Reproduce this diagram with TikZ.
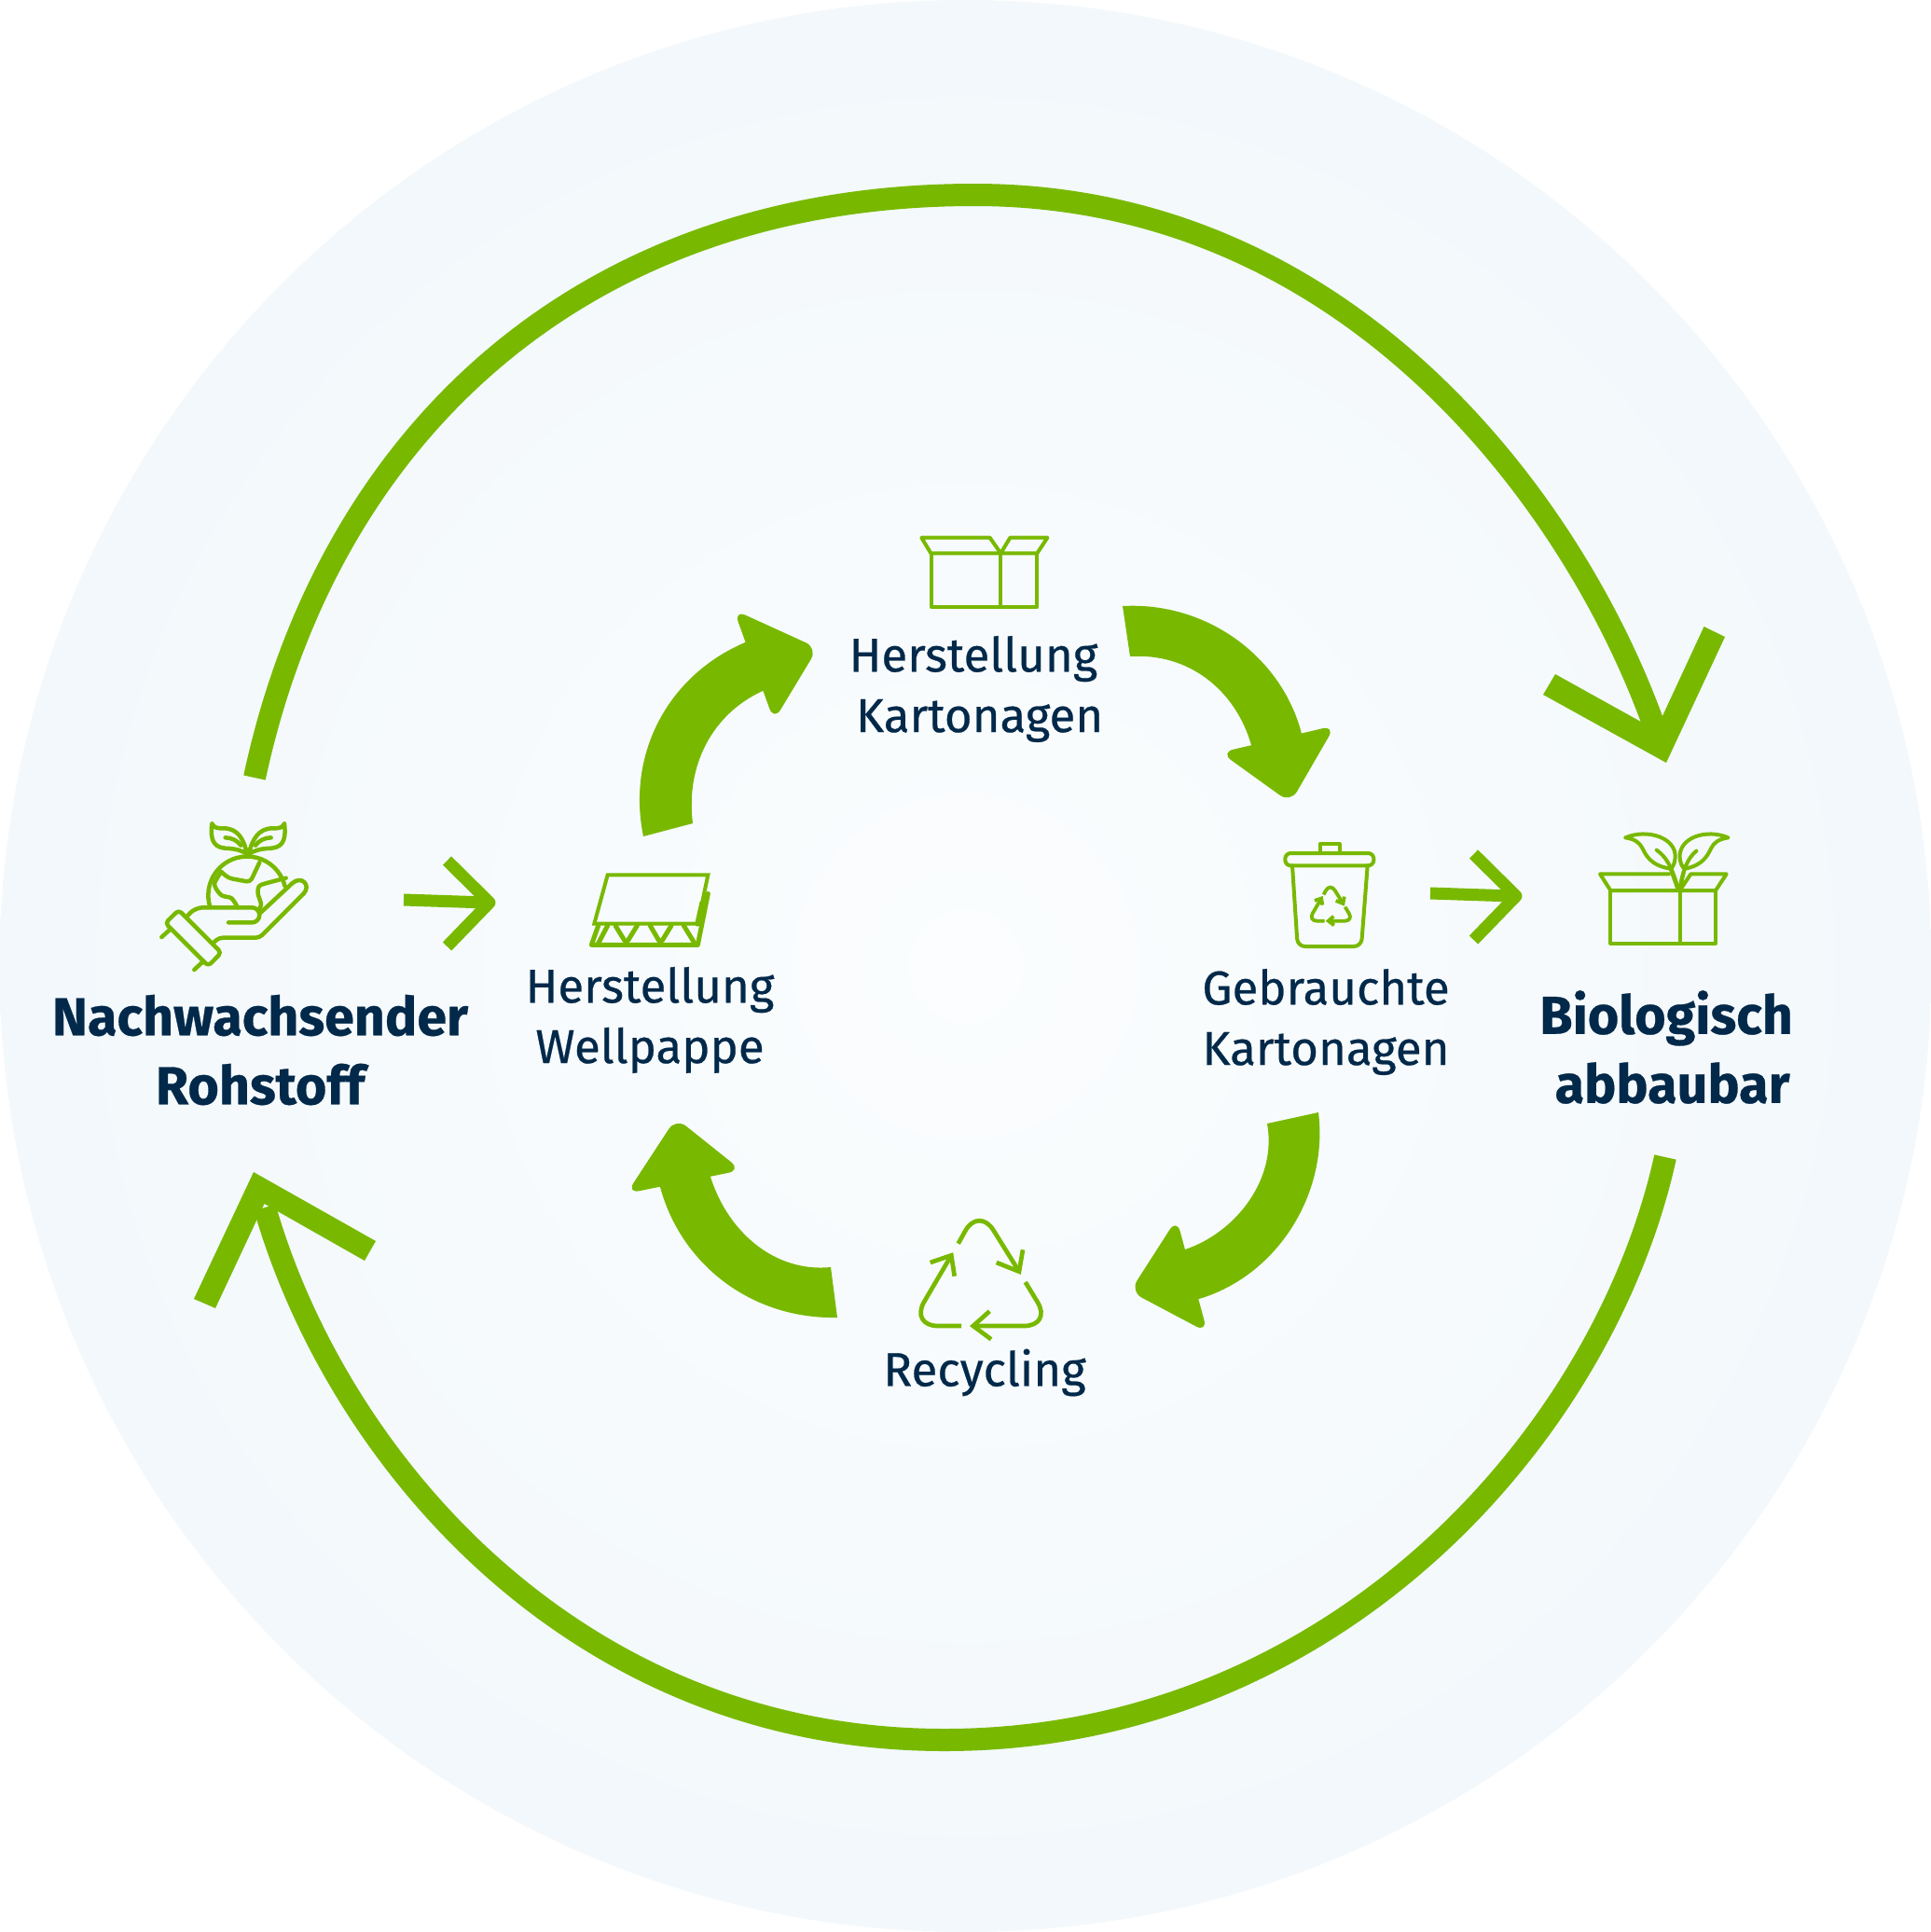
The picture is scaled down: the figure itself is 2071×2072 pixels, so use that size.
\documentclass[tikz,border=0pt]{standalone}
\usepackage{fontspec}
\setmainfont{Fira Sans}
\newfontfamily\labfont{Fira Sans}[FakeBold=0.5]
\newfontfamily\heavyfont{Fira Sans Bold}[FakeBold=0.5]
\usetikzlibrary{calc}
\definecolor{grn}{HTML}{78B900}
\definecolor{navy}{HTML}{02294A}
\definecolor{pale}{HTML}{F1F7FB}
\definecolor{mid}{HTML}{FBFDFE}
\pgfdeclareradialshading{bgshade}{\pgfpoint{0bp}{0bp}}{color(0bp)=(mid); color(30bp)=(pale); color(50bp)=(pale)}
\tikzset{
  px/.style={line width=#1*0.5pt},
  bigarc/.style={draw=grn,px=24,line cap=butt},
  chevron/.style={fill=grn},
  smallarrow/.style={draw=grn,px=13,line join=round},
  ringbody/.style={fill=grn},
  ringhead/.style={fill=grn,rounded corners=7pt},
  icon/.style={draw=grn,px=4,line join=round,line cap=round},
  lab/.style={text=navy,align=center,font=\labfont\fontsize{25.5}{32.4}\selectfont,inner sep=0pt},
  boldlab/.style={text=navy,align=center,font=\heavyfont\fontsize{28.7}{37}\selectfont,inner sep=0pt},
}
\newcommand{\recysym}[2]{%
  \draw[draw=grn,line width=#1,rounded corners=#2] (-23.3,-39.3) -- (-1.3,-79) -- (42,-9.3);
  \draw[draw=grn,line width=#1] (17.7,-19) -- (42,-9.3) -- (46,-32.7);
  \draw[draw=grn,line width=#1,rounded corners=#2] (48.7,2) -- (77.3,49) -- (-7.3,49);
  \draw[draw=grn,line width=#1] (10.3,33.3) -- (-7.3,49) -- (12,63.3);
  \draw[draw=grn,line width=#1,rounded corners=#2] (-20,49) -- (-75,49) -- (-30.7,-26.7);
  \draw[draw=grn,line width=#1] (-53.3,-19) -- (-30.7,-26.7) -- (-27.3,-4.3);
}
\begin{document}
\begin{tikzpicture}[x=0.5pt,y=-0.5pt]
\useasboundingbox (0,0) rectangle (2071,2072);
\path[shading=bgshade] (1035.5,1036) circle (1036);

% big cycle
\coordinate (topStart) at (273,834);
\coordinate (topPeak) at (1045,209);
\coordinate (topTip) at (1778,790);
\coordinate (botStart) at (1786,1241);
\coordinate (botLow) at (1013,1866);
\coordinate (botTip) at (284,1295);
\draw[bigarc] (topStart) .. controls (352,465) and (625,209) .. (topPeak) .. controls (1460,209) and (1700,560) .. (topTip);
\fill[chevron] (1655,745) -- (1787,818) -- (1850,683) -- (1827.5,672) -- (1776,783) -- (1668,723) -- cycle;
\draw[bigarc] (botStart) .. controls (1720,1540) and (1430,1866) .. (botLow) .. controls (613,1866) and (360,1560) .. (botTip);
\fill[chevron] (208,1393) -- (272,1257) -- (403,1331) -- (391,1352) -- (283.5,1291) -- (231,1403) -- cycle;

% small arrows
\coordinate (leftA) at (433,965);
\coordinate (leftB) at (522,968);
\draw[smallarrow] (leftA) -- (leftB);
\draw[smallarrow] (479.5,923) -- (525,968) -- (479.5,1015);
\coordinate (rightA) at (1534,958);
\coordinate (rightB) at (1623,961);
\draw[smallarrow] (rightA) -- (rightB);
\draw[smallarrow] (1580.5,916) -- (1626,961) -- (1580.5,1008);

% ring arrows
\fill[ringbody] (1204,650) .. controls (1295,645) and (1375,705) .. (1396,787) -- (1397,793) -- (1343,805) -- (1342,799) .. controls (1325,740) and (1275,700) .. (1212,704) -- cycle;
\path[ringhead] (1309,807) -- (1432,778) -- (1384,861) -- cycle;
\fill[ringbody] (1414,1193) .. controls (1425,1280) and (1370,1368) .. (1286,1393) -- (1280,1395) -- (1265,1342) -- (1271,1340) .. controls (1325,1322) and (1370,1265) .. (1359,1205) -- cycle;
\path[ringhead] (1262,1307) -- (1212,1385) -- (1295,1429) -- cycle;
\fill[ringbody] (898,1413) .. controls (805,1415) and (730,1355) .. (708,1273) -- (707,1267) -- (761,1256) -- (762,1262) .. controls (780,1320) and (830,1365) .. (891,1359) -- cycle;
\path[ringhead] (725,1199) -- (672,1280) -- (795,1255) -- cycle;
\fill[ringbody] (690,897) .. controls (672,810) and (715,725) .. (799,689) -- (805,687) -- (824,739) -- (818,741) .. controls (765,765) and (735,820) .. (743,883) -- cycle;
\path[ringhead] (787,654) -- (877,695) -- (830,773) -- cycle;

% labels
\node[lab] (lKart) at (1044,739) {Herstellung\\\hspace*{6.6pt}Kartonagen};
\node[lab] (lWell) at (697,1094) {Herstellung\\Wellpappe};
\node[lab] (lGeb) at (1422,1096) {Gebrauchte\\Kartonagen};
\node[lab] (lRec) at (1056,1472) {Recycling};
\node[boldlab] (lRoh) at (279,1126) {Nachwachsender\\Rohstoff};
\node[boldlab] (lBio) at (1787,1123) {Biologisch\\\hspace*{6.6pt}abbaubar};

% box icon
\begin{scope}[shift={(950,550)},scale=1/3]
\draw[icon] (115,80) -- (335,80) -- (370,130) -- (145,130) -- cycle;
\draw[icon] (370,130) -- (400,80) -- (520,80) -- (487,130) -- (370,130);
\draw[icon] (147,133) -- (147,303) -- (487,303) -- (487,133);
\draw[icon] (368,130) -- (368,303);
\end{scope}

% corrugated icon
\begin{scope}[shift={(600,900)},scale=1/3]
\draw[icon,line join=miter] (155,115) -- (478,115) -- (445,272) -- (112,272) -- cycle;
\draw[icon,px=5] (125,278) -- (103,340) -- (445,340) -- (478,175);
\draw[icon,px=6] (460,205) -- (445,272);
\draw[icon,px=5,rounded corners=2pt] (125,335) -- (155,278);
\draw[icon,px=5,rounded corners=2pt] (180,278) -- (215,335) -- (250,278);
\draw[icon,px=5,rounded corners=2pt] (292,278) -- (325,335) -- (360,278);
\draw[icon,px=5,rounded corners=2pt] (400,278) -- (435,335);
\end{scope}

% bin icon
\begin{scope}[shift={(1350,890)},scale=1/3]
\draw[icon] (197,75) -- (197,45) -- (260,45) -- (260,75);
\draw[icon,rounded corners=3pt] (85,115) -- (85,75) -- (370,75) -- (370,115) -- cycle;
\draw[icon,rounded corners=4pt] (108,115) -- (125,375) -- (330,375) -- (350,115);
\end{scope}
\begin{scope}[shift={(1427,972)},scale=0.32]
\recysym{1.9pt}{4.8pt}
\end{scope}

% recycling icon
\begin{scope}[shift={(1051,1373)}]
\recysym{2.35pt}{15pt}
\end{scope}

% plant box icon
\begin{scope}[shift={(1690,870)},scale=1/3]
\draw[icon] (300,202) -- (78,202) -- (112,255) -- (450,255) -- (485,202) -- (370,202) -- (335,255);
\draw[icon] (112,255) -- (112,425) -- (450,425) -- (450,255);
\draw[icon] (335,255) -- (335,425);
\draw[icon] (160,85) .. controls (230,55) and (325,85) .. (320,150) .. controls (318,170) and (312,180) .. (305,185) .. controls (240,175) and (225,140) .. (215,120) .. controls (205,100) and (190,90) .. (160,85);
\draw[icon] (490,85) .. controls (420,55) and (330,85) .. (335,150) .. controls (337,170) and (343,180) .. (350,185) .. controls (410,175) and (425,140) .. (435,120) .. controls (445,100) and (460,90) .. (490,85);
\draw[icon] (260,125) .. controls (290,145) and (310,180) .. (328,245);
\draw[icon] (388,128) .. controls (360,150) and (345,190) .. (335,245);
\draw[icon] (305,185) -- (328,250);
\draw[icon] (350,185) -- (335,250);
\end{scope}

% hand icon
\begin{scope}[shift={(150,860)},scale=1/3,icon/.append style={px=4.5}]
\draw[icon,rounded corners=2pt] (125,348) -- (262,485) -- (220,528) -- (82,390) -- cycle;
\draw[icon] (70,435) -- (100,408);
\draw[icon] (175,540) -- (205,512);
\draw[icon,rounded corners=4pt] (150,370) -- (178,340) -- (385,340) -- (385,388) -- (285,388);
\draw[icon,rounded corners=2pt] (240,450) -- (255,437) -- (385,437) -- (527,295);
\draw[icon] (527,295) .. controls (552,268) and (520,235) .. (490,262) -- (390,355);
\draw[icon] (225,335) arc[start angle=164,end angle=346,radius=125];
\draw[icon,rounded corners=2pt] (262,225) -- (285,245) -- (355,258) -- (385,195);
\draw[icon] plot[smooth] coordinates {(262,225) (240,265) (262,300) (295,310) (315,340)};
\draw[icon] plot[smooth] coordinates {(470,245) (420,258) (385,270) (380,295) (390,330) (380,350)};
\draw[icon] (232,70) .. controls (225,130) and (240,150) .. (290,150) .. controls (310,152) and (325,155) .. (345,168) .. controls (335,120) and (315,85) .. (270,85) .. controls (250,85) and (240,85) .. (232,70);
\draw[icon] (465,70) .. controls (472,130) and (457,150) .. (407,150) .. controls (387,152) and (372,155) .. (350,168) .. controls (362,120) and (382,85) .. (427,85) .. controls (447,85) and (457,85) .. (465,70);
\draw[icon] (275,115) .. controls (295,115) and (315,125) .. (325,140);
\draw[icon] (422,115) .. controls (402,115) and (382,125) .. (372,140);
\end{scope}
\end{tikzpicture}
\end{document}
